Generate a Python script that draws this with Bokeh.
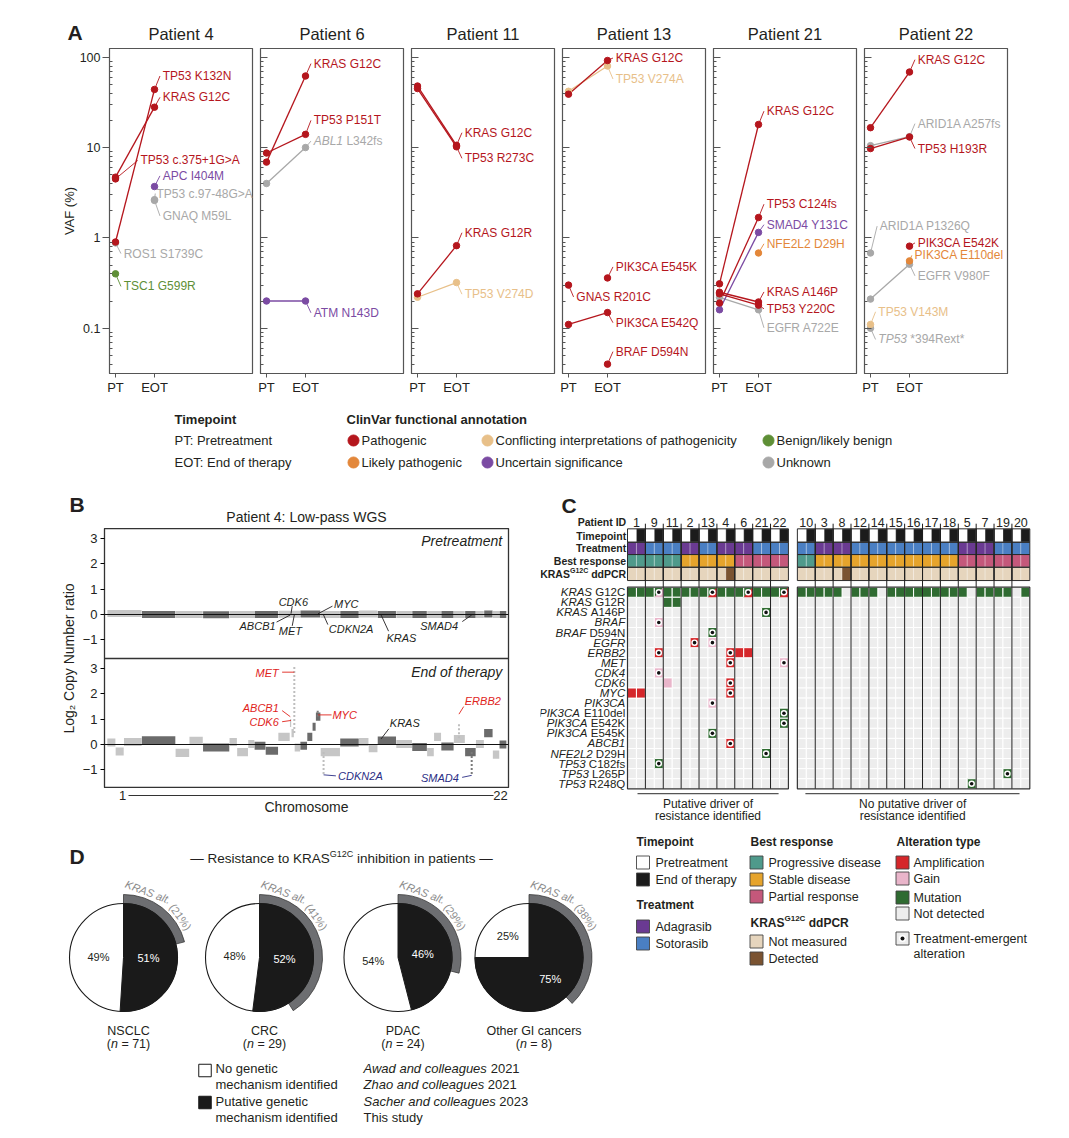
import math
from bokeh.plotting import figure
from bokeh.layouts import column, row
from bokeh.models import Range1d, FixedTicker, CustomJSTickFormatter, Span, Spacer
from bokeh.core.properties import value
from bokeh.embed import file_html
from bokeh.resources import INLINE

FONT = "Liberation Sans"
INK = "#231F20"

# ======================= DATA =======================
# ---- Panel A: VAF (%) at pretreatment (PT) and end of therapy (EOT)
A_PATIENTS = ["Patient 4", "Patient 6", "Patient 11", "Patient 13", "Patient 21", "Patient 22"]
A_TIMEPOINTS = ["PT", "EOT"]
A_TICKS = [0.1, 1, 10, 100]

P4_VARIANT = ["TP53 K132N", "KRAS G12C", "TP53 c.375+1G>A", "APC I404M", "TP53 c.97-48G>A",
              "GNAQ M59L", "ROS1 S1739C", "TSC1 G599R"]
P4_CLINVAR = ["Pathogenic", "Pathogenic", "Pathogenic", "Uncertain significance", "Unknown",
              "Unknown", "Unknown", "Benign/likely benign"]
P4_VAF_PT = [0.9, 4.7, 4.5, None, None, None, 0.88, 0.4]
P4_VAF_EOT = [44, 28, None, 3.7, 2.65, 2.6, None, None]

P6_VARIANT = ["KRAS G12C", "TP53 P151T", "ABL1 L342fs", "ATM N143D"]
P6_CLINVAR = ["Pathogenic", "Pathogenic", "Unknown", "Uncertain significance"]
P6_VAF_PT = [6.9, 8.7, 4.0, 0.2]
P6_VAF_EOT = [62, 14, 10, 0.2]

P11_VARIANT = ["KRAS G12C", "TP53 R273C", "KRAS G12R", "TP53 V274D"]
P11_CLINVAR = ["Pathogenic", "Pathogenic", "Pathogenic", "Conflicting interpretations of pathogenicity"]
P11_VAF_PT = [48, 45, 0.24, 0.22]
P11_VAF_EOT = [10.6, 10.2, 0.82, 0.32]

P13_VARIANT = ["KRAS G12C", "TP53 V274A", "PIK3CA E545K", "GNAS R201C", "PIK3CA E542Q", "BRAF D594N"]
P13_CLINVAR = ["Pathogenic", "Conflicting interpretations of pathogenicity", "Pathogenic",
               "Pathogenic", "Pathogenic", "Pathogenic"]
P13_VAF_PT = [39, 42, None, 0.30, 0.11, None]
P13_VAF_EOT = [92, 80, 0.36, None, 0.149, 0.04]

P21_VARIANT = ["KRAS G12C", "TP53 C124fs", "SMAD4 Y131C", "NFE2L2 D29H", "KRAS A146P",
               "TP53 Y220C", "EGFR A722E"]
P21_CLINVAR = ["Pathogenic", "Pathogenic", "Uncertain significance", "Likely pathogenic",
               "Pathogenic", "Pathogenic", "Unknown"]
P21_VAF_PT = [0.31, 0.19, 0.16, None, 0.25, 0.24, 0.22]
P21_VAF_EOT = [18, 1.68, 1.15, 0.68, 0.195, 0.18, 0.16]

P22_VARIANT = ["KRAS G12C", "ARID1A A257fs", "TP53 H193R", "ARID1A P1326Q", "PIK3CA E542K",
               "PIK3CA E110del", "EGFR V980F", "TP53 V143M", "TP53 *394Rext*"]
P22_CLINVAR = ["Pathogenic", "Unknown", "Pathogenic", "Unknown", "Pathogenic", "Likely pathogenic",
               "Unknown", "Conflicting interpretations of pathogenicity", "Unknown"]
P22_VAF_PT = [16.6, 10.5, 9.75, 0.68, None, None, 0.21, 0.11, 0.1]
P22_VAF_EOT = [68.6, 13.2, 13.1, None, 0.81, 0.556, 0.51, None, None]

# label layout for panel A (anchor timepoint, label x in timepoint units, label y in VAF)
P4_LABEL_AT = ["EOT", "EOT", "PT", "EOT", "EOT", "EOT", "PT", "PT"]
P4_LABEL_X = [1.21, 1.21, 0.64, 1.21, 1.05, 1.21, 0.21, 0.21]
P4_LABEL_Y = [62, 36, 7.2, 4.86, 3.1, 1.75, 0.67, 0.29]
P6_LABEL_AT = ["EOT"] * 4
P6_LABEL_X = [1.21] * 4
P6_LABEL_Y = [85, 20, 11.8, 0.148]
P11_LABEL_AT = ["EOT"] * 4
P11_LABEL_X = [1.21] * 4
P11_LABEL_Y = [14.6, 7.6, 1.14, 0.238]
P13_LABEL_AT = ["EOT", "EOT", "EOT", "PT", "EOT", "EOT"]
P13_LABEL_X = [1.21, 1.21, 1.21, 0.2, 1.21, 1.21]
P13_LABEL_Y = [98, 57.5, 0.477, 0.222, 0.115, 0.055]
P21_LABEL_AT = ["EOT"] * 7
P21_LABEL_X = [1.21] * 7
P21_LABEL_Y = [25.3, 2.36, 1.4, 0.86, 0.252, 0.164, 0.101]
P22_LABEL_AT = ["EOT", "EOT", "EOT", "PT", "EOT", "EOT", "EOT", "PT", "PT"]
P22_LABEL_X = [1.21, 1.21, 1.21, 0.24, 1.21, 1.13, 1.21, 0.2, 0.2]
P22_LABEL_Y = [94, 18.4, 9.75, 1.35, 0.88, 0.64, 0.38, 0.152, 0.075]

ITALIC_GENE = {"ABL1 L342fs", "TP53 *394Rext*"}

CLINVAR_CLASSES = ["Pathogenic", "Likely pathogenic", "Conflicting interpretations of pathogenicity",
                   "Uncertain significance", "Benign/likely benign", "Unknown"]
CLINVAR_COLORS = ["#B5161D", "#E3873A", "#E8C089", "#7B4BA3", "#5E8F36", "#A8A8A8"]

# ---- Panel B: copy-number segments (log2 ratio) per chromosome
CHROM_LEN_MB = [249.3, 243.2, 198.0, 191.2, 180.9, 171.1, 159.1, 146.4, 141.2, 135.5, 135.0,
                133.9, 115.2, 107.3, 102.5, 90.4, 81.2, 78.1, 59.1, 63.0, 48.1, 51.3]
PRE_LEVEL = [0.04, 0.0, 0.0, -0.01, 0.0, 0.0, 0.01, 0.02, 0.0, 0.0, 0.02, 0.0, 0.0, 0.0, 0.0,
             0.0, 0.0, 0.0, 0.0, 0.02, 0.0, 0.0]
EOT_SEG_CHROM = [1, 1, 1, 2, 3, 3, 4, 5, 5, 5, 6, 6, 7, 7, 7, 7, 8, 8, 8, 8, 9, 10, 11, 11, 12,
                 13, 14, 15, 15, 16, 17, 18, 19, 20, 21, 22]
EOT_SEG_START = [0, 60, 120, 0, 0, 100, 0, 0, 55, 135, 0, 80, 0, 84, 95, 118, 0, 50, 88, 112,
                 0, 0, 0, 70, 0, 0, 0, 0, 50, 0, 0, 0, 0, 0, 0, 0]
EOT_SEG_END = [60, 120, 249.3, 243.2, 100, 198.0, 191.2, 55, 135, 180.9, 80, 171.1, 84, 95, 114,
               159.1, 50, 88, 112, 146.4, 141.2, 135.5, 70, 135.0, 133.9, 115.2, 107.3, 50, 102.5,
               90.4, 81.2, 78.1, 59.1, 63.0, 48.1, 51.3]
EOT_SEG_LEVEL = [0.08, -0.28, 0.1, 0.17, -0.33, 0.15, -0.12, 0.1, -0.3, 0.02, -0.05, -0.25, 0.3,
                 0.85, 0.45, -0.12, -0.05, 0.3, 0.7, 1.1, -0.3, 0.08, 0.1, -0.15, 0.16, 0.02,
                 -0.1, -0.3, 0.3, -0.08, 0.22, -0.3, 0.02, 0.45, -0.4, 0.0]
FOCAL_CHROM = [7, 8, 9, 17, 18]
FOCAL_MB = [116.3, 126.0, 21.9, 37.8, 48.5]
FOCAL_FROM = [0.45, 1.1, -0.3, 0.25, -0.3]
FOCAL_TO = [3.1, 1.36, -1.22, 0.8, -1.25]
B_GENES = ["ABCB1", "CDK6", "MET", "MYC", "CDKN2A", "KRAS", "SMAD4", "ERBB2"]
B_GENE_CHROM = [7, 7, 7, 8, 9, 12, 18, 17]
B_GENE_MB = [87.1, 92.4, 116.3, 128.7, 21.9, 25.3, 48.5, 37.8]

# ---- Panel C: oncoprint
C_LEFT_IDS = ["1", "9", "11", "2", "13", "4", "6", "21", "22"]
C_RIGHT_IDS = ["10", "3", "8", "12", "14", "15", "16", "17", "18", "5", "7", "19", "20"]
C_LEFT_TREATMENT = ["Adagrasib", "Sotorasib", "Sotorasib", "Adagrasib", "Sotorasib", "Adagrasib",
                    "Adagrasib", "Sotorasib", "Sotorasib"]
C_RIGHT_TREATMENT = ["Sotorasib", "Adagrasib", "Adagrasib", "Sotorasib", "Sotorasib", "Sotorasib",
                     "Sotorasib", "Sotorasib", "Sotorasib", "Adagrasib", "Adagrasib", "Sotorasib",
                     "Sotorasib"]
C_LEFT_RESPONSE = ["Progressive disease"] * 3 + ["Stable disease"] * 3 + ["Partial response"] * 3
C_RIGHT_RESPONSE = ["Progressive disease"] + ["Stable disease"] * 8 + ["Partial response"] * 4
C_DDPCR_DETECTED = [("4", "EOT"), ("8", "EOT")]
C_ROW_GENE = ["KRAS", "KRAS", "KRAS", "BRAF", "BRAF", "EGFR", "ERBB2", "MET", "CDK4", "CDK6", "MYC",
              "PIK3CA", "PIK3CA", "PIK3CA", "PIK3CA", "ABCB1", "NFE2L2", "TP53", "TP53", "TP53"]
C_ROW_VARIANT = ["G12C", "G12R", "A146P", "", "D594N", "", "", "", "", "", "", "", "E110del",
                 "E542K", "E545K", "", "D29H", "C182fs", "L265P", "R248Q"]
C_KRAS_G12C_ABSENT = [("8", "EOT"), ("14", "EOT"), ("5", "EOT"), ("20", "PT")]
C_EV_ROW = ["KRAS G12C", "KRAS G12C", "KRAS G12C", "KRAS G12C", "KRAS G12R", "KRAS G12R",
            "KRAS A146P", "BRAF", "BRAF D594N", "EGFR", "EGFR", "ERBB2", "ERBB2", "ERBB2", "ERBB2",
            "MET", "MET", "CDK4", "CDK6", "CDK6", "MYC", "MYC", "MYC", "PIK3CA", "PIK3CA E110del",
            "PIK3CA E542K", "PIK3CA E545K", "ABCB1", "NFE2L2 D29H", "TP53 C182fs", "TP53 L265P",
            "TP53 R248Q"]
C_EV_PATIENT = ["9", "13", "6", "22", "11", "11", "21", "9", "13", "2", "13", "9", "4", "6", "6",
                "4", "22", "9", "11", "4", "1", "1", "4", "13", "22", "22", "13", "4", "21", "9",
                "19", "5"]
C_EV_TIME = ["EOT", "EOT", "EOT", "EOT", "PT", "EOT", "EOT", "EOT", "EOT", "EOT", "EOT", "EOT",
             "EOT", "PT", "EOT", "EOT", "EOT", "EOT", "PT", "EOT", "PT", "EOT", "EOT", "EOT", "EOT",
             "EOT", "EOT", "EOT", "EOT", "EOT", "EOT", "EOT"]
C_EV_TYPE = ["Gain", "Amplification", "Amplification", "Amplification", "Mutation", "Mutation",
             "Mutation", "Gain", "Mutation", "Amplification", "Gain", "Amplification",
             "Amplification", "Amplification", "Amplification", "Amplification", "Gain", "Gain",
             "Gain", "Amplification", "Amplification", "Amplification", "Amplification", "Gain",
             "Mutation", "Mutation", "Mutation", "Amplification", "Mutation", "Mutation",
             "Mutation", "Mutation"]
C_EV_EMERGENT = [True, True, True, True, False, False, True, True, True, True, True, True, True,
                 False, False, True, True, True, False, True, False, False, True, True, True, True,
                 True, True, True, True, True, True]
C_TREAT_COLORS = {"Adagrasib": "#6A3A92", "Sotorasib": "#4A7FC3"}
C_RESP_COLORS = {"Progressive disease": "#4F9A8B", "Stable disease": "#E6A42C",
                 "Partial response": "#C4587B"}
C_ALT_COLORS = {"Amplification": "#D5262A", "Gain": "#E9B5CA", "Mutation": "#2F6B31",
                "Not detected": "#EDEDED"}
C_DDPCR_COLORS = {"Not measured": "#E6D5BD", "Detected": "#7A5331"}

# ---- Panel D: pies
D_COHORT = ["NSCLC", "CRC", "PDAC", "Other GI cancers"]
D_N = [71, 29, 24, 8]
D_PUTATIVE_PCT = [51, 52, 46, 75]
D_NONE_PCT = [49, 48, 54, 25]
D_KRAS_ALT_PCT = [21, 41, 29, 38]
D_SOURCE = ["Awad and colleagues", "Zhao and colleagues", "Sacher and colleagues", "This study"]
D_YEAR = ["2021", "2021", "2023", ""]

# ======================= helpers =======================
_REG, _BOLD = {}, {}
for chars, w in [("ijl", 222), (" !,./:;I[]ft", 278), ("()-r", 333), ("*", 389), ("Jckvsxyz", 500),
                 ("0123456789abdeghnopquL?\u2013", 556), ("+<=>\u2212", 584), ("FTZ", 611),
                 ("ABEKPSVXY", 667), ("CDHNRUw", 722), ("GOQ", 778), ("Mm", 833), ("%", 889),
                 ("W", 944), ("\u2014", 1000)]:
    for ch in chars:
        _REG[ch] = w
for chars, w in [(" !,./:;Iijl", 278), ("()-ft", 333), ("r", 389), ("0123456789acesxyzkvJ", 556),
                 ("bdghnopquFTLZ", 611), ("EPSVXY", 667), ("ABCDHKNRUw", 722), ("GOQ", 778),
                 ("M", 833), ("m", 889), ("W", 944)]:
    for ch in chars:
        _BOLD[ch] = w


def tw(s, size, bold=False):
    t = _BOLD if bold else _REG
    return sum(t.get(ch, _REG.get(ch, 556)) for ch in s) * size / 1000.0


def put(p, x, y, s, size=13, color=INK, align="left", baseline="middle", style="normal", angle=0.0):
    p.text(x=[x], y=[y], text=[s], text_font=value(FONT), text_font_size=f"{size}px",
           text_color=color, text_align=align, text_baseline=baseline, text_font_style=style,
           angle=angle)


def pput(p, x, iy, s, **kw):
    put(p, x, -iy, s, **kw)


def fig(**kw):
    return figure(output_backend="svg", toolbar_location=None, frame_align=False, **kw)


def pixfig(x0, x1, y0, y1):
    p = fig(width=round(x1 - x0), height=round(y1 - y0), x_range=Range1d(x0, x1),
            y_range=Range1d(-y1, -y0), x_axis_location=None, y_axis_location=None, min_border=0)
    p.grid.visible = False
    p.outline_line_color = None
    return p


CLR = dict(zip(CLINVAR_CLASSES, CLINVAR_COLORS))
PRIO = {c: i for i, c in enumerate(reversed(CLINVAR_CLASSES))}

# ======================= PANEL A =======================
A_DATA = [
    (P4_VARIANT, P4_CLINVAR, P4_VAF_PT, P4_VAF_EOT, P4_LABEL_AT, P4_LABEL_X, P4_LABEL_Y),
    (P6_VARIANT, P6_CLINVAR, P6_VAF_PT, P6_VAF_EOT, P6_LABEL_AT, P6_LABEL_X, P6_LABEL_Y),
    (P11_VARIANT, P11_CLINVAR, P11_VAF_PT, P11_VAF_EOT, P11_LABEL_AT, P11_LABEL_X, P11_LABEL_Y),
    (P13_VARIANT, P13_CLINVAR, P13_VAF_PT, P13_VAF_EOT, P13_LABEL_AT, P13_LABEL_X, P13_LABEL_Y),
    (P21_VARIANT, P21_CLINVAR, P21_VAF_PT, P21_VAF_EOT, P21_LABEL_AT, P21_LABEL_X, P21_LABEL_Y),
    (P22_VARIANT, P22_CLINVAR, P22_VAF_PT, P22_VAF_EOT, P22_LABEL_AT, P22_LABEL_X, P22_LABEL_Y),
]
A_UNIT = 39.0
A_FW = 143
AX0 = -6.0 / A_UNIT
AX1 = AX0 + A_FW / A_UNIT
A_MINOR = [k * 10.0 ** e for e in (-2, -1, 0, 1) for k in range(2, 10) if 0.0315 < k * 10.0 ** e < 125]
LAB = 12

a_figs, a_centers = [], []
xc = 8
for i, (var, cls, vpt, veot, lat, lx, ly) in enumerate(A_DATA):
    left = 101 if i == 0 else 4
    W = left + A_FW + 4
    a_centers.append(xc + left + A_FW / 2)
    xc += W
    p = fig(width=W, height=350, x_range=Range1d(AX0, AX1), y_range=Range1d(0.0315, 125),
            y_axis_type="log", min_border_left=left, min_border_right=4, min_border_top=0,
            min_border_bottom=25)
    p.xgrid.visible = False
    p.ygrid.visible = False
    p.outline_line_color = "#555555"
    p.outline_line_width = 1.2
    xa = p.xaxis[0]
    xa.ticker = FixedTicker(ticks=[0, 1])
    xa.major_label_overrides = {0: A_TIMEPOINTS[0], 1: A_TIMEPOINTS[1]}
    xa.major_tick_out = 4
    xa.major_tick_in = 0
    xa.minor_tick_line_color = None
    xa.axis_line_color = "#555555"
    xa.major_tick_line_color = "#555555"
    xa.major_label_text_font = FONT
    xa.major_label_text_font_size = "13px"
    xa.major_label_text_color = INK
    xa.major_label_standoff = 2
    ya = p.yaxis[0]
    ya.ticker = FixedTicker(ticks=A_TICKS, minor_ticks=A_MINOR)
    ya.axis_line_color = "#555555"
    ya.major_tick_line_color = "#555555"
    ya.minor_tick_line_color = "#555555"
    ya.minor_tick_in = 3
    ya.minor_tick_out = 0
    if i == 0:
        ya.major_tick_out = 7
        ya.major_tick_in = 0
        ya.formatter = CustomJSTickFormatter(code="return tick >= 1 ? tick.toFixed(0) : String(tick);")
        ya.major_label_text_font = FONT
        ya.major_label_text_font_size = "12.5px"
        ya.major_label_text_color = INK
        ya.major_label_standoff = 2
        ya.axis_label = "VAF (%)"
        ya.axis_label_text_font = FONT
        ya.axis_label_text_font_size = "13px"
        ya.axis_label_text_font_style = "normal"
        ya.axis_label_text_color = INK
        ya.axis_label_standoff = 0
    else:
        ya.major_tick_out = 0
        ya.major_tick_in = 7
        ya.formatter = CustomJSTickFormatter(code="return '';")
        ya.major_label_standoff = 0

    order = sorted(range(len(var)), key=lambda j: PRIO[cls[j]])
    mx, my, mc = [], [], []
    px_, py_, pc_ = [], [], []
    for j in order:
        c = CLR[cls[j]]
        if vpt[j] is not None and veot[j] is not None:
            mx.append([0, 1])
            my.append([vpt[j], veot[j]])
            mc.append(c)
        if vpt[j] is not None:
            px_.append(0); py_.append(vpt[j]); pc_.append(c)
        if veot[j] is not None:
            px_.append(1); py_.append(veot[j]); pc_.append(c)
    if mx:
        p.multi_line(xs=mx, ys=my, line_color=mc, line_width=1.3)
    sx0, sy0, sx1, sy1, sc = [], [], [], [], []
    for j in range(len(var)):
        ax = 0 if lat[j] == "PT" else 1
        ay = vpt[j] if lat[j] == "PT" else veot[j]
        sx0.append(ax); sy0.append(ay)
        sx1.append(max(ax + 0.02, lx[j] - 0.07)); sy1.append(ly[j])
        sc.append(CLR[cls[j]])
    p.segment(x0=sx0, y0=sy0, x1=sx1, y1=sy1, line_color=sc, line_width=0.9)
    p.scatter(x=px_, y=py_, size=6.5, fill_color=pc_, line_color=pc_)
    for j in range(len(var)):
        c = CLR[cls[j]]
        if var[j] in ITALIC_GENE:
            gene, rest = var[j].split(" ", 1)
            put(p, lx[j], ly[j], gene, LAB, c, style="italic")
            put(p, lx[j] + tw(gene + " ", LAB) / A_UNIT, ly[j], rest, LAB, c)
        else:
            put(p, lx[j], ly[j], var[j], LAB, c)
    a_figs.append(p)

headA = pixfig(8, 1061, 8, 48)
pput(headA, 67, 32, "A", size=21, style="bold")
for name, cx in zip(A_PATIENTS, a_centers):
    pput(headA, cx, 33.5, name, size=16.5, align="center")

legA = pixfig(8, 1061, 398, 478)
pput(legA, 174, 419, "Timepoint", size=13, style="bold")
pput(legA, 174, 440, "PT: Pretreatment", size=13)
pput(legA, 174, 462, "EOT: End of therapy", size=13)
pput(legA, 346, 419, "ClinVar functional annotation", size=13, style="bold")
LEG_A_POS = [(353, 440), (353, 462), (487, 440), (487, 462), (768, 440), (768, 462)]
for (lxp, lyp), name in zip(LEG_A_POS, CLINVAR_CLASSES):
    legA.scatter(x=[lxp], y=[-lyp], size=11, fill_color=CLR[name], line_color=CLR[name])
    pput(legA, lxp + 8, lyp, name, size=13)

# ======================= PANEL B =======================
OFF = 5.14
BY0 = -1.74
cum = [0.0]
for L in CHROM_LEN_MB[:-1]:
    cum.append(cum[-1] + L)


def gpos(ch, mb):
    return cum[ch - 1] + mb


LIGHT, DARK = "#C6C6C6", "#6B6B6B"

headB = pixfig(8, 540, 478, 528)
pput(headB, 69, 503.5, "B", size=21, style="bold")
pput(headB, 306, 516, "Patient 4: Low-pass WGS", size=14, align="center")

bfig = fig(width=532, height=260, x_range=Range1d(-19.5, 2895.4),
           y_range=Range1d(BY0, BY0 + 2 * OFF), x_axis_location=None,
           min_border_left=96, min_border_right=32, min_border_top=0, min_border_bottom=0)
bfig.grid.visible = False
bfig.outline_line_color = "#333333"
bfig.outline_line_width = 1.3
yb = bfig.yaxis[0]
yb.ticker = FixedTicker(ticks=[-1, 0, 1, 2, 3] + [v + OFF for v in (-1, 0, 1, 2, 3)])
yb.formatter = CustomJSTickFormatter(code=f"""
var v = tick > 3.5 ? tick - {OFF} : tick; v = Math.round(v);
return v < 0 ? '\\u2212' + Math.abs(v) : String(v);""")
yb.major_tick_out = 4
yb.major_tick_in = 0
yb.minor_tick_line_color = None
yb.axis_line_color = "#333333"
yb.major_label_text_font = FONT
yb.major_label_text_font_size = "13px"
yb.major_label_text_color = INK
yb.major_label_standoff = 3
yb.axis_label = "Log\u2082 Copy Number ratio"
yb.axis_label_text_font = FONT
yb.axis_label_text_font_size = "14px"
yb.axis_label_text_font_style = "normal"
yb.axis_label_text_color = INK
yb.axis_label_standoff = 3

ql, qr, qb, qt, qc = [], [], [], [], []
for k, L in enumerate(CHROM_LEN_MB):
    ch = k + 1
    lev = PRE_LEVEL[k] + OFF
    ql.append(gpos(ch, 1.5)); qr.append(gpos(ch, L - 1.5))
    qb.append(lev - 0.14); qt.append(lev + 0.14)
    qc.append(LIGHT if ch % 2 else DARK)
for ch, s0, s1, lev in zip(EOT_SEG_CHROM, EOT_SEG_START, EOT_SEG_END, EOT_SEG_LEVEL):
    ql.append(gpos(ch, s0 + 1.0)); qr.append(gpos(ch, s1 - 1.0))
    qb.append(lev - 0.16); qt.append(lev + 0.16)
    qc.append(LIGHT if ch % 2 else DARK)
bfig.quad(left=ql, right=qr, bottom=qb, top=qt, fill_color=qc, line_color=None)
fx = [gpos(c, m) for c, m in zip(FOCAL_CHROM, FOCAL_MB)]
fcol = ["#BEBEBE" if c % 2 else "#7A7A7A" for c in FOCAL_CHROM]
bfig.segment(x0=fx, y0=FOCAL_FROM, x1=fx, y1=FOCAL_TO, line_color=fcol, line_width=2,
             line_dash="2 2")
bfig.add_layout(Span(location=0, dimension="width", line_color="#111111", line_width=1.2))
bfig.add_layout(Span(location=OFF, dimension="width", line_color="#111111", line_width=1.2))
bfig.add_layout(Span(location=BY0 + OFF, dimension="width", line_color="#333333", line_width=1.3))

G = {g: gpos(c, m) for g, c, m in zip(B_GENES, B_GENE_CHROM, B_GENE_MB)}
RED, BLUE = "#E0241C", "#2B2E85"
B_PRE_LAB = [("CDK6", 1343, 0.51, "center", 1335, 0.33),
             ("MYC", 1637, 0.43, "left", 1625, 0.33),
             ("ABCB1", 1215, -0.47, "right", 1222, -0.3),
             ("MET", 1322, -0.67, "center", 1335, -0.45),
             ("CDKN2A", 1599, -0.59, "left", 1592, -0.4),
             ("KRAS", 2015, -0.91, "left", 2030, -0.66),
             ("SMAD4", 2532, -0.47, "right", 2562, -0.28)]
B_EOT_LAB = [("MET", 1238, 2.84, "right", 1262, 2.86, RED),
             ("ABCB1", 1238, 1.45, "right", 1262, 1.34, RED),
             ("CDK6", 1238, 0.88, "right", 1262, 0.9, RED),
             ("MYC", 1625, 1.17, "left", 1619, 1.17, RED),
             ("KRAS", 2039, 0.86, "left", 2032, 0.62, INK),
             ("ERBB2", 2580, 1.71, "left", 2572, 1.5, RED),
             ("CDKN2A", 1666, -1.26, "left", 1650, -1.24, BLUE),
             ("SMAD4", 2537, -1.32, "right", 2561, -1.3, BLUE)]
B_EOT_LEADER_START_Y = {"MET": 2.86, "ABCB1": 1.1, "CDK6": 0.95, "MYC": 1.17, "KRAS": 0.22,
                        "ERBB2": 1.2, "CDKN2A": -1.2, "SMAD4": -1.22}
for g, x, y, al, ex, ey in B_PRE_LAB:
    bfig.segment(x0=[G[g]], y0=[-0.02 + OFF if ey < 0 else 0.03 + OFF], x1=[ex], y1=[ey + OFF],
                 line_color=INK, line_width=0.9)
    put(bfig, x, y + OFF, g, size=11, align=al, style="italic")
for g, x, y, al, ex, ey, col in B_EOT_LAB:
    bfig.segment(x0=[G[g]], y0=[B_EOT_LEADER_START_Y[g]], x1=[ex], y1=[ey], line_color=col,
                 line_width=0.9)
    put(bfig, x, y, g, size=11, color=col, align=al, style="italic")
put(bfig, 2850, 2.9 + OFF, "Pretreatment", size=14, align="right", style="italic")
put(bfig, 2850, 2.85, "End of therapy", size=14, align="right", style="italic")

footB = pixfig(8, 540, 788, 825)
pput(footB, 122, 795, "1", size=13, align="center")
footB.segment(x0=[128], y0=[-795], x1=[493], y1=[-795], line_color="#333333", line_width=1)
pput(footB, 500, 795, "22", size=13, align="center")
pput(footB, 306, 806, "Chromosome", size=14, align="center")

# ======================= PANEL C =======================
CW, RH = 8.94, 10.08
cfig = fig(width=521, height=347, x_range=Range1d(-87 / CW, (521 - 87) / CW),
           y_range=Range1d((825 - 586.7) / RH, (478 - 586.7) / RH),
           x_axis_location=None, y_axis_location=None, min_border=0)
cfig.grid.visible = False
cfig.outline_line_color = None

ALL_IDS = C_LEFT_IDS + C_RIGHT_IDS
ALL_TREAT = C_LEFT_TREATMENT + C_RIGHT_TREATMENT
ALL_RESP = C_LEFT_RESPONSE + C_RIGHT_RESPONSE


def col0(pid):
    if pid in C_LEFT_IDS:
        return 2 * C_LEFT_IDS.index(pid)
    return 19 + 2 * C_RIGHT_IDS.index(pid)


def col_of(pid, tp):
    return col0(pid) + (0 if tp == "PT" else 1)


BANDS = [(-5.79, -4.46), (-4.46, -3.24), (-3.24, -1.98), (-1.98, -0.66)]
hx, hy, hh, hc = [], [], [], []
for pid, tr, rs in zip(ALL_IDS, ALL_TREAT, ALL_RESP):
    for tp in ("PT", "EOT"):
        c = col_of(pid, tp) + 0.5
        dd = "Detected" if (pid, tp) in C_DDPCR_DETECTED else "Not measured"
        cols = ["#FFFFFF" if tp == "PT" else "#1B1B1B", C_TREAT_COLORS[tr], C_RESP_COLORS[rs],
                C_DDPCR_COLORS[dd]]
        for (a, b), fc in zip(BANDS, cols):
            hx.append(c); hy.append((a + b) / 2); hh.append(b - a); hc.append(fc)
cfig.rect(x=hx, y=hy, width=1, height=hh, fill_color=hc, line_color="white", line_alpha=0.35,
          line_width=0.8)
bx, by, bh = [], [], []
for pid in ALL_IDS:
    for a, b in BANDS:
        bx.append(col0(pid) + 1); by.append((a + b) / 2); bh.append(b - a)
cfig.rect(x=bx, y=by, width=2, height=bh, fill_color=None, line_color="#2B2B2B", line_width=1)

gx, gy = [], []
for r in range(len(C_ROW_GENE)):
    for c in list(range(18)) + list(range(19, 45)):
        gx.append(c + 0.5); gy.append(r + 0.5)
cfig.rect(x=gx, y=gy, width=1, height=1, fill_color=C_ALT_COLORS["Not detected"],
          line_color="white", line_width=1)

ROW_NAMES = [g + (" " + v if v else "") for g, v in zip(C_ROW_GENE, C_ROW_VARIANT)]
kr = ROW_NAMES.index("KRAS G12C")
mx_, my_ = [], []
for pid in ALL_IDS:
    for tp in ("PT", "EOT"):
        if (pid, tp) not in C_KRAS_G12C_ABSENT:
            mx_.append(col_of(pid, tp) + 0.5); my_.append(kr + 0.5)
cfig.rect(x=mx_, y=my_, width=1, height=1, fill_color=C_ALT_COLORS["Mutation"], line_color="white",
          line_width=1)
dotx, doty = [], []
for rname, pid, tp, typ, em in zip(C_EV_ROW, C_EV_PATIENT, C_EV_TIME, C_EV_TYPE, C_EV_EMERGENT):
    r = ROW_NAMES.index(rname)
    c = col_of(pid, tp)
    if rname == "KRAS G12C" and typ != "Mutation":
        cfig.patch(x=[c, c + 1, c + 1], y=[r + 1, r + 1, r], fill_color=C_ALT_COLORS[typ],
                   line_color=None)
    else:
        cfig.rect(x=[c + 0.5], y=[r + 0.5], width=1, height=1, fill_color=C_ALT_COLORS[typ],
                  line_color="white", line_width=1)
    if em:
        dotx.append(c + 0.5); doty.append(r + 0.5)
cfig.scatter(x=dotx, y=doty, size=6.5, fill_color="white", line_color=None)
cfig.scatter(x=dotx, y=doty, size=3.6, fill_color="#111111", line_color=None)

sepx = [c for c in range(2, 18, 2)] + [19 + c for c in range(2, 26, 2)]
cfig.segment(x0=sepx, y0=[-6.3] * len(sepx), x1=sepx, y1=[20] * len(sepx), line_color="#1E1E1E",
             line_width=1)
cfig.rect(x=[9, 32], y=[10, 10], width=[18, 26], height=20, fill_color=None, line_color="#333333",
          line_width=1.2)

put(cfig, -66 / CW, (505 - 586.7) / RH, "C", size=21, style="bold")
XR = -0.15
for pid in ALL_IDS:
    put(cfig, col0(pid) + 1, -6.45, pid, size=12.5, align="center")
HB = 10.5
put(cfig, XR, -6.45, "Patient ID", size=HB, align="right", style="bold")
put(cfig, XR, -5.125, "Timepoint", size=HB, align="right", style="bold")
put(cfig, XR, -3.85, "Treatment", size=HB, align="right", style="bold")
put(cfig, XR, -2.61, "Best response", size=HB, align="right", style="bold")
put(cfig, XR, -1.32, "ddPCR", size=HB, align="right", style="bold")
x2 = XR - (tw("ddPCR", HB, True) + tw(" ", HB, True)) / CW
put(cfig, x2, -1.62, "G12C", size=7, align="right", style="bold")
x3 = x2 - tw("G12C", 7, True) / CW
put(cfig, x3, -1.32, "KRAS", size=HB, align="right", style="bold")
XL = -0.25
RS = 11.5
for r, (g, v) in enumerate(zip(C_ROW_GENE, C_ROW_VARIANT)):
    if v:
        put(cfig, XL, r + 0.5, v, size=RS, align="right")
        put(cfig, XL - tw(" " + v, RS) / CW, r + 0.5, g, size=RS, align="right", style="italic")
    else:
        put(cfig, XL, r + 0.5, g, size=RS, align="right", style="italic")
cfig.segment(x0=[1.12, 19.9], y0=[20.47, 20.47], x1=[16.9, 43.85], y1=[20.47, 20.47],
             line_color="#555555", line_width=1.2)
put(cfig, 9.0, 21.5, "Putative driver of", size=12, align="center")
put(cfig, 9.0, 22.7, "resistance identified", size=12, align="center")
put(cfig, 31.9, 21.5, "No putative driver of", size=12, align="center")
put(cfig, 31.9, 22.7, "resistance identified", size=12, align="center")

# ======================= LEGEND C =======================
DSPLIT = 603
legC = pixfig(DSPLIT, 1061, 825, 1125)
SQ = 13


def swatch(p, x, iy, fill, line="#444444"):
    p.rect(x=[x], y=[-iy], width=SQ, height=SQ, fill_color=fill, line_color=line, line_width=0.9)


pput(legC, 636, 841, "Timepoint", size=12, style="bold")
for iy, lab, fc in [(862, "Pretreatment", "#FFFFFF"), (879, "End of therapy", "#1B1B1B")]:
    swatch(legC, 642.5, iy, fc)
    pput(legC, 655, iy, lab, size=12.5)
pput(legC, 636, 904, "Treatment", size=12, style="bold")
for iy, lab in [(926, "Adagrasib"), (943, "Sotorasib")]:
    swatch(legC, 642.5, iy, C_TREAT_COLORS[lab])
    pput(legC, 655, iy, lab, size=12.5)
pput(legC, 750, 841, "Best response", size=12, style="bold")
for iy, lab in [(862, "Progressive disease"), (879, "Stable disease"), (896, "Partial response")]:
    swatch(legC, 756, iy, C_RESP_COLORS[lab])
    pput(legC, 768, iy, lab, size=12.5)
pput(legC, 750, 922, "KRAS", size=12, style="bold")
pput(legC, 750 + tw("KRAS", 12, True), 918, "G12C", size=8, style="bold")
pput(legC, 750 + tw("KRAS", 12, True) + tw("G12C", 8, True) + tw(" ", 12, True), 922, "ddPCR",
     size=12, style="bold")
for iy, lab in [(941, "Not measured"), (958, "Detected")]:
    swatch(legC, 756, iy, C_DDPCR_COLORS[lab])
    pput(legC, 768, iy, lab, size=12.5)
pput(legC, 896, 841, "Alteration type", size=12, style="bold")
for iy, lab in [(862, "Amplification"), (878, "Gain"), (897, "Mutation"), (913, "Not detected")]:
    swatch(legC, 902, iy, C_ALT_COLORS[lab])
    pput(legC, 913, iy, lab, size=12.5)
swatch(legC, 902, 938, C_ALT_COLORS["Not detected"])
legC.scatter(x=[902], y=[-938], size=7, fill_color="white", line_color=None)
legC.scatter(x=[902], y=[-938], size=4, fill_color="#111111", line_color=None)
pput(legC, 913, 938, "Treatment-emergent", size=12.5)
pput(legC, 913, 953, "alteration", size=12.5)

# ======================= PANEL D =======================
dfig = pixfig(8, DSPLIT, 825, 1125)
pput(dfig, 69, 855.5, "D", size=21, style="bold")
TS = 13.5
t1, t2, t3 = "\u2014 Resistance to KRAS", "G12C", "inhibition in patients \u2014"
tot = tw(t1, TS) + tw(t2, 9) + tw(" ", TS) + tw(t3, TS)
xs0 = 341 - tot / 2
pput(dfig, xs0, 858, t1, size=TS)
pput(dfig, xs0 + tw(t1, TS), 853, t2, size=9)
pput(dfig, xs0 + tw(t1, TS) + tw(t2, 9) + tw(" ", TS), 858, t3, size=TS)

PIE_CX = [123, 259, 397.5, 528.5]
PIE_CY = 957
R_IN, R_OUT = 54, 63
for k, cx in enumerate(PIE_CX):
    fput = D_PUTATIVE_PCT[k] / 100.0
    falt = D_KRAS_ALT_PCT[k] / 100.0
    dfig.annular_wedge(x=[cx], y=[-PIE_CY], inner_radius=R_IN, outer_radius=R_OUT,
                       start_angle=math.pi / 2, end_angle=math.pi / 2 - 2 * math.pi * falt,
                       direction="clock", fill_color="#6D6E71", line_color="#3A3A3A",
                       line_width=0.8)
    dfig.circle(x=[cx], y=[-PIE_CY], radius=R_IN, fill_color="white", line_color="#1A1A1A",
                line_width=1.1)
    dfig.wedge(x=[cx], y=[-PIE_CY], radius=R_IN, start_angle=math.pi / 2,
               end_angle=math.pi / 2 - 2 * math.pi * fput, direction="clock",
               fill_color="#1A1A1A", line_color="#1A1A1A", line_width=1)
    rl = 30 if k == 3 else 25
    for frac_mid, pct, col in [(fput / 2, D_PUTATIVE_PCT[k], "white"),
                               (fput + (1 - fput) / 2, D_NONE_PCT[k], INK)]:
        a = 2 * math.pi * frac_mid
        pput(dfig, cx + rl * math.sin(a), PIE_CY - rl * math.cos(a), f"{pct}%", size=11,
             color=col, align="center")
    R = 70.0
    ang = math.radians(1.0)
    for s, st in [("KRAS alt.", "italic"), (f"({D_KRAS_ALT_PCT[k]}%)", "normal")]:
        w = tw(s, 11)
        mid = ang + (w / 2) / R
        put(dfig, cx + R * math.sin(mid), -PIE_CY + R * math.cos(mid), s, size=11,
            color="#8C8C8C", align="center", style=st, angle=-mid)
        ang += (w + tw(" ", 11)) / R
    pput(dfig, cx + 5, 1030, D_COHORT[k], size=12.5, align="center")
    n1, n2, n3 = "(", "n", f"= {D_N[k]})"
    wt = tw("(n ", 12.5) + tw(n3, 12.5)
    xl = cx + 5 - wt / 2
    pput(dfig, xl, 1043, n1, size=12.5)
    pput(dfig, xl + tw(n1, 12.5), 1043, n2, size=12.5, style="italic")
    pput(dfig, xl + tw("(n ", 12.5), 1043, n3, size=12.5)

dfig.rect(x=[204.5, 204.5], y=[-1070, -1102], width=12.5, height=12.5,
          fill_color=["white", "#1A1A1A"], line_color="#1A1A1A", line_width=1)
for iy, s in [(1068, "No genetic"), (1084.3, "mechanism identified"), (1100.7, "Putative genetic"),
              (1116.7, "mechanism identified")]:
    pput(dfig, 215, iy, s, size=13)
for iy, src, yr in zip([1068, 1084.3, 1100.7, 1116.7], D_SOURCE, D_YEAR):
    if yr:
        pput(dfig, 363, iy, src, size=13, style="italic")
        pput(dfig, 363 + tw(src + " ", 13), iy, yr, size=13)
    else:
        pput(dfig, 363, iy, src, size=13)

# ======================= LAYOUT =======================
content = column(headA, row(*a_figs), legA,
                 row(column(headB, bfig, footB), cfig),
                 row(dfig, legC))
page = column(Spacer(width=1061, height=8), row(Spacer(width=8, height=8), content))
open("out.html", "w").write(file_html(page, INLINE, title="KRAS G12C resistance"))
